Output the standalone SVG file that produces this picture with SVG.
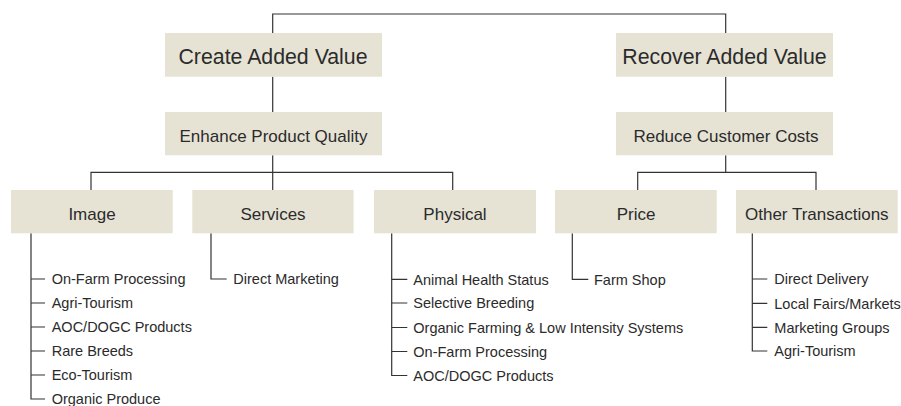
<svg xmlns="http://www.w3.org/2000/svg" width="901" height="406" viewBox="0 0 901 406">
  <style>
    .box { fill: #e6e3d5; }
    .t1 { font-family: "Liberation Sans", Arial, sans-serif; font-size: 21.3px; fill: #2b2b2b; text-anchor: middle; }
    .t2 { font-family: "Liberation Sans", Arial, sans-serif; font-size: 17px; fill: #2b2b2b; text-anchor: middle; }
    .item { font-family: "Liberation Sans", Arial, sans-serif; font-size: 14.5px; fill: #2b2b2b; }
    .wire { fill: none; stroke: #333; stroke-width: 1.2; }
  </style>
  <rect width="901" height="406" fill="#fff"/>

  <g id="connectors" class="wire">
    <!-- top bracket -->
    <path d="M272.7 33 V14 H725.7 V33"/>
    <!-- left branch -->
    <path d="M272.7 76.7 V112"/>
    <path d="M272.7 155.3 V190"/>
    <path d="M91 190 V172.3 H452.7 V190"/>
    <!-- right branch -->
    <path d="M725.7 76.7 V112"/>
    <path d="M725.7 155.3 V172.3"/>
    <path d="M637.7 190 V172.3 H816 V190"/>
    <!-- Image list -->
    <path d="M31 233.3 V399 H45"/>
    <path d="M31 279 H45 M31 303 H45 M31 327 H45 M31 351 H45 M31 375 H45"/>
    <!-- Services list -->
    <path d="M211 233.3 V279 H226.7"/>
    <!-- Physical list -->
    <path d="M391.7 233.3 V375.5 H407.3"/>
    <path d="M391.7 279.3 H407.3 M391.7 303 H407.3 M391.7 327.5 H407.3 M391.7 351.5 H407.3"/>
    <!-- Price list -->
    <path d="M572.3 233.3 V279.3 H588.3"/>
    <!-- Other Transactions list -->
    <path d="M752.3 233.3 V351 H767.3"/>
    <path d="M752.3 279 H767.3 M752.3 303.3 H767.3 M752.3 327.3 H767.3"/>
  </g>

  <g id="create-added-value">
    <rect class="box" x="165" y="33" width="217" height="43.7"/>
    <text class="t1" x="273" y="64.3">Create Added Value</text>
  </g>
  <g id="recover-added-value">
    <rect class="box" x="616" y="33" width="217" height="43.7"/>
    <text class="t1" x="724.5" y="64.3">Recover Added Value</text>
  </g>

  <g id="enhance-product-quality">
    <rect class="box" x="165" y="112" width="217" height="43.3"/>
    <text class="t2" x="273.5" y="141.7">Enhance Product Quality</text>
  </g>
  <g id="reduce-customer-costs">
    <rect class="box" x="616" y="112" width="217" height="43.3"/>
    <text class="t2" x="726" y="141.7">Reduce Customer Costs</text>
  </g>

  <g id="image">
    <rect class="box" x="11" y="190" width="161.7" height="43.3"/>
    <text class="t2" x="92" y="220">Image</text>
  </g>
  <g id="services">
    <rect class="box" x="192.3" y="190" width="161.3" height="43.3"/>
    <text class="t2" x="273" y="220">Services</text>
  </g>
  <g id="physical">
    <rect class="box" x="374" y="190" width="162" height="43.3"/>
    <text class="t2" x="455" y="220">Physical</text>
  </g>
  <g id="price">
    <rect class="box" x="555" y="190" width="161.7" height="43.3"/>
    <text class="t2" x="636" y="220">Price</text>
  </g>
  <g id="other-transactions">
    <rect class="box" x="736" y="190" width="161.7" height="43.3"/>
    <text class="t2" x="816.8" y="220">Other Transactions</text>
  </g>

  <g id="image-items" class="item">
    <text x="51.7" y="284.3">On-Farm Processing</text>
    <text x="51.7" y="308.3">Agri-Tourism</text>
    <text x="51.7" y="332.3">AOC/DOGC Products</text>
    <text x="51.7" y="356.3">Rare Breeds</text>
    <text x="51.7" y="380.3">Eco-Tourism</text>
    <text x="51.7" y="404.3">Organic Produce</text>
  </g>
  <g id="services-items" class="item">
    <text x="233.3" y="284.3">Direct Marketing</text>
  </g>
  <g id="physical-items" class="item">
    <text x="413.3" y="284.6">Animal Health Status</text>
    <text x="413.3" y="308.3">Selective Breeding</text>
    <text x="413.3" y="332.8">Organic Farming &amp; Low Intensity Systems</text>
    <text x="413.3" y="356.8">On-Farm Processing</text>
    <text x="413.3" y="380.8">AOC/DOGC Products</text>
  </g>
  <g id="price-items" class="item">
    <text x="594" y="284.6">Farm Shop</text>
  </g>
  <g id="other-items" class="item">
    <text x="774.3" y="284.3">Direct Delivery</text>
    <text x="774.3" y="308.6">Local Fairs/Markets</text>
    <text x="774.3" y="332.6">Marketing Groups</text>
    <text x="774.3" y="356.3">Agri-Tourism</text>
  </g>
</svg>
